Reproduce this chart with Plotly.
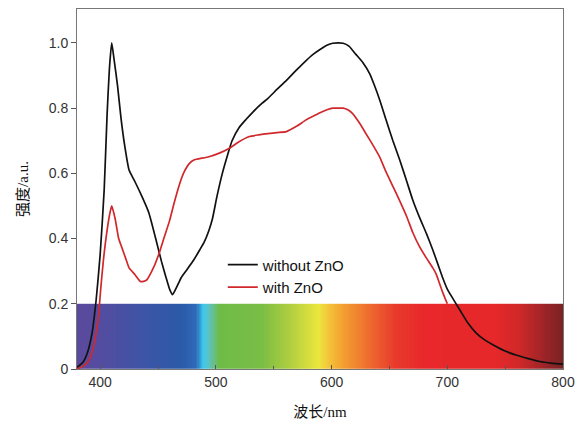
import numpy as np
import plotly.graph_objects as go

# Wavelength (nm) and intensity (a.u.)
wl_without = [380, 385, 389, 393, 396.5, 400, 403.5, 406, 408, 410, 412, 415, 418, 421, 425, 430, 436, 442,
              448, 453, 457, 460, 462.6, 466, 470, 474, 481, 486, 490, 494, 497, 501, 505.6, 510, 514, 520,
              526, 532, 540, 545, 553, 561, 570, 578, 584, 590, 596, 601, 606, 610, 615, 621, 627, 633,
              637, 641.6, 647, 653, 659, 665, 670, 676, 682, 687.5, 692, 696, 700, 705, 711, 718, 725,
              732, 739, 750, 760, 770, 780, 790, 800]
int_without = [0.005, 0.02, 0.05, 0.11, 0.21, 0.35, 0.55, 0.78, 0.92, 1.0, 0.95, 0.87, 0.77, 0.69, 0.61, 0.575,
               0.53, 0.48, 0.40, 0.33, 0.28, 0.245, 0.228, 0.25, 0.28, 0.30, 0.335, 0.365, 0.39, 0.425,
               0.46, 0.53, 0.60, 0.655, 0.70, 0.74, 0.765, 0.788, 0.815, 0.83, 0.858, 0.885, 0.918, 0.946,
               0.965, 0.98, 0.993, 0.999, 1.0, 0.999, 0.99, 0.965, 0.94, 0.905, 0.87, 0.825, 0.765, 0.70,
               0.64, 0.575, 0.52, 0.465, 0.415, 0.365, 0.32, 0.28, 0.245, 0.215, 0.18, 0.14, 0.11, 0.09,
               0.075, 0.055, 0.042, 0.032, 0.023, 0.018, 0.015]

wl_with = [380, 385, 389, 393, 396, 398.5, 400.6, 403, 405, 408, 410, 413, 416, 419, 422, 425, 430, 435,
           440, 446, 451, 455, 460, 464, 468, 472, 477, 481, 486, 494, 503, 511.7, 520, 529, 537, 545,
           553, 561, 570, 578, 584, 590, 596, 601, 606, 610, 614, 618, 624, 630, 636, 641.6, 647, 653,
           659, 665, 670, 676, 682, 687.5, 690.5, 693.5, 696, 700]
int_with = [0.0, 0.008, 0.02, 0.05, 0.1, 0.16, 0.25, 0.34, 0.40, 0.47, 0.50, 0.46, 0.40, 0.37, 0.34, 0.31,
            0.29, 0.268, 0.272, 0.31, 0.355, 0.40, 0.455, 0.51, 0.56, 0.60, 0.63, 0.641, 0.645, 0.651,
            0.662, 0.677, 0.697, 0.713, 0.718, 0.722, 0.725, 0.728, 0.745, 0.764, 0.775, 0.786, 0.795,
            0.80, 0.80, 0.80, 0.795, 0.784, 0.755, 0.72, 0.685, 0.65, 0.605, 0.56, 0.515, 0.467, 0.42,
            0.375, 0.34, 0.31, 0.29, 0.26, 0.235, 0.20]

# Visible-spectrum band (nm -> colour)
band_wl = [380, 400, 440, 470, 483, 489, 494, 503, 540, 566, 589, 598, 610, 633, 655, 680, 740, 762, 785, 800]
band_col = ["#5b4a9c", "#544ca0", "#3c55a6", "#2b5aa8", "#2e6ab8", "#3ccaf0", "#5ec2c0", "#6fbb48",
            "#7abe44", "#b4cf40", "#ece63c", "#f4c23a", "#f3a030", "#ee6a2e", "#e83a2c", "#e8282a",
            "#e6282a", "#d02828", "#9a2428", "#7a2222"]
band_top = 0.2

x_edges = np.arange(380, 801, 1)
x_centers = (x_edges[:-1] + x_edges[1:]) / 2
colorscale = [[(w - band_wl[0]) / (band_wl[-1] - band_wl[0]), c] for w, c in zip(band_wl, band_col)]

fig = go.Figure()
fig.add_trace(go.Heatmap(x=x_edges, y=[0, band_top], z=[x_centers], colorscale=colorscale,
                         zmin=band_wl[0], zmax=band_wl[-1], showscale=False, hoverinfo="skip",
                         showlegend=False))
fig.add_trace(go.Scatter(x=wl_without, y=int_without, mode="lines", name="without ZnO",
                         line=dict(color="#111111", width=1.7, shape="spline", smoothing=0.5)))
fig.add_trace(go.Scatter(x=wl_with, y=int_with, mode="lines", name="with ZnO",
                         line=dict(color="#d0282c", width=1.7, shape="spline", smoothing=0.5)))

tickfont = dict(family="Liberation Sans, Arial, sans-serif", size=14, color="#333333")
titlefont = dict(family="Liberation Serif, Noto Sans CJK SC, serif", size=15, color="#111111")

fig.update_layout(
    width=576, height=422,
    margin=dict(l=77, r=13, t=9, b=53, autoexpand=False),
    paper_bgcolor="white", plot_bgcolor="white",
    legend=dict(x=0.30, y=0.335, xanchor="left", yanchor="top", bgcolor="rgba(0,0,0,0)",
                font=dict(family="Liberation Sans, Arial, sans-serif", size=15, color="#111111"),
                tracegroupgap=0),
)
fig.update_xaxes(range=[380, 800], tickvals=[400, 500, 600, 700, 800], ticks="inside", ticklen=4,
                 tickcolor="#555555", showgrid=False, zeroline=False, showline=True, linecolor="#777777",
                 linewidth=1, mirror=True, tickfont=tickfont, automargin=False,
                 minor=dict(tickvals=[450, 550, 650, 750], ticks="inside", ticklen=3, tickcolor="#555555"),
                 title=dict(text="波长/nm", font=titlefont, standoff=17))
fig.update_yaxes(range=[0, 1.104], tickvals=[0, 0.2, 0.4, 0.6, 0.8, 1.0],
                 ticktext=["0", "0.2", "0.4", "0.6", "0.8", "1.0"], ticks="outside", ticklen=5,
                 tickcolor="#555555", showgrid=False, zeroline=False, showline=True, linecolor="#777777",
                 linewidth=1, mirror=True, tickfont=tickfont, automargin=False,
                 title=dict(text="强度/a.u.", font=titlefont, standoff=16))

fig.write_html("out.html")
